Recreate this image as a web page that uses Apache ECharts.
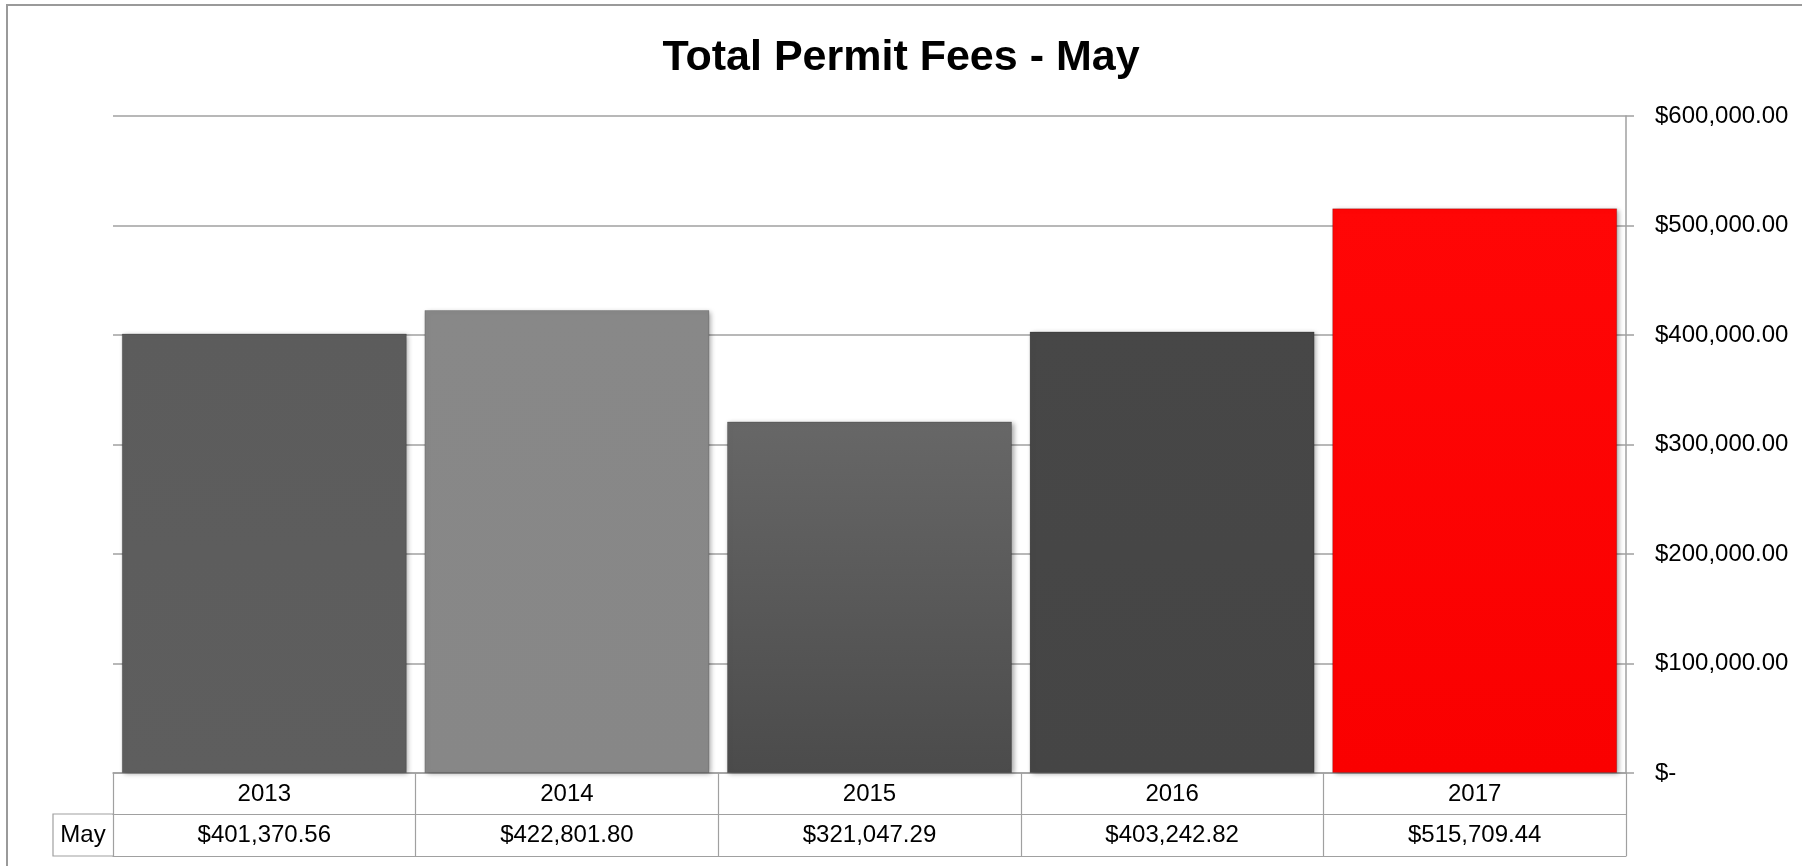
<!DOCTYPE html>
<html>
<head>
<meta charset="utf-8">
<script src="https://cdn.jsdelivr.net/npm/echarts@6/dist/echarts.min.js"></script>
<style>
html,body{margin:0;padding:0;background:#fff;}
#chart{width:1802px;height:866px;}
</style>
</head>
<body>
<div id="chart"></div>
<script>
// ---- data ----
const categories = ['2013', '2014', '2015', '2016', '2017'];
const seriesName = 'May';
const values = [401370.56, 422801.80, 321047.29, 403242.82, 515709.44];
const yTicks = [0, 100000, 200000, 300000, 400000, 500000, 600000];

// ---- styles ----
const barColors = [
  ['#5c5c5c', '#5e5e5e'],
  ['#888888', '#878787'],
  ['#676767', '#4b4b4b'],
  ['#474747', '#454545'],
  ['#ff0606', '#fa0000']
];
const FONT = '"Liberation Sans", Arial, sans-serif';
const GRID = { left: 113, right: 176, top: 116, bottom: 93 };
const ROW1 = 41, ROW2 = 42;
const LINE = '#a0a0a0';

function money(v) {
  if (v === 0) return '$-';
  return '$' + v.toLocaleString('en-US', { minimumFractionDigits: 2, maximumFractionDigits: 2 });
}

const chart = echarts.init(document.getElementById('chart'));
const W = 1802, H = 866;
const axisBottomY = H - GRID.bottom;

const option = {
  backgroundColor: '#ffffff',
  animation: false,
  title: {
    text: 'Total Permit Fees - May',
    left: 'center',
    top: 37,
    textStyle: { fontFamily: FONT, fontWeight: 'bold', fontSize: 43, color: '#000' },
    padding: [0, 0, 0, 20]
  },
  grid: { left: GRID.left, right: GRID.right, top: GRID.top, bottom: GRID.bottom, containLabel: false },
  xAxis: [
    {
      type: 'category', data: categories, position: 'bottom',
      axisLine: { show: true, lineStyle: { color: LINE, width: 1.5 } },
      axisTick: { show: true, length: ROW1 + ROW2, lineStyle: { color: LINE, width: 1.2 } },
      axisLabel: { fontFamily: FONT, fontSize: 24, color: '#000', margin: 9, lineHeight: 24 },
      splitLine: { show: false }
    },
    {
      type: 'category', data: categories, position: 'bottom', offset: ROW1,
      axisLine: { show: true, lineStyle: { color: LINE, width: 1.2 } },
      axisTick: { show: false },
      axisLabel: {
        fontFamily: FONT, fontSize: 24, color: '#000', margin: 9, lineHeight: 24,
        formatter: function (v, i) { return money(values[i]); }
      }
    },
    {
      type: 'category', data: categories, position: 'bottom', offset: ROW1 + ROW2,
      axisLine: { show: true, lineStyle: { color: LINE, width: 1.2 } },
      axisTick: { show: false },
      axisLabel: { show: false }
    }
  ],
  yAxis: {
    type: 'value', position: 'right',
    min: yTicks[0], max: yTicks[yTicks.length - 1], interval: yTicks[1] - yTicks[0],
    axisLine: { show: true, lineStyle: { color: LINE, width: 1.5 } },
    axisTick: { show: true, length: 8, lineStyle: { color: LINE, width: 1.5 } },
    axisLabel: { fontFamily: FONT, fontSize: 24, color: '#000', margin: 29, formatter: money },
    splitLine: { show: true, lineStyle: { color: LINE, width: 1.5 } }
  },
  series: [{
    name: seriesName,
    type: 'bar',
    barCategoryGap: '5.8%',
    data: values.map(function (v, i) {
      const c = barColors[i];
      return {
        value: v,
        itemStyle: {
          color: new echarts.graphic.LinearGradient(0, 0, 0, 1, [
            { offset: 0, color: c[0] }, { offset: 1, color: c[1] }
          ]),
          borderColor: 'rgba(0,0,0,0.18)',
          borderWidth: 1,
          shadowColor: 'rgba(0,0,0,0.35)',
          shadowBlur: 5,
          shadowOffsetX: 2,
          shadowOffsetY: 1
        }
      };
    })
  }],
  graphic: [
    {
      type: 'rect', silent: true, z: -1,
      shape: { x: 7, y: 5, width: W, height: H },
      style: { fill: 'none', stroke: '#9a9a9a', lineWidth: 2 }
    },
    {
      type: 'polyline', silent: true,
      shape: { points: [[GRID.left, axisBottomY + ROW1], [53, axisBottomY + ROW1], [53, axisBottomY + ROW1 + ROW2], [GRID.left, axisBottomY + ROW1 + ROW2]] },
      style: { fill: 'none', stroke: LINE, lineWidth: 1.2 }
    },
    {
      type: 'text', silent: true,
      x: (53 + GRID.left) / 2, y: axisBottomY + ROW1 + ROW2 / 2,
      style: { text: seriesName, font: '24px ' + FONT, fill: '#000', align: 'center', verticalAlign: 'middle' }
    }
  ]
};
chart.setOption(option);
</script>
</body>
</html>
